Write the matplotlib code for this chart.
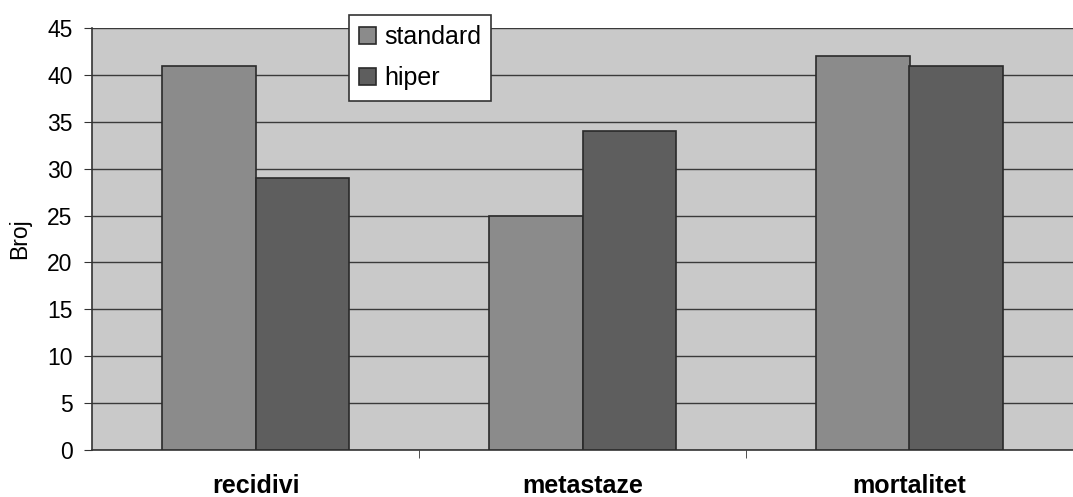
import numpy as np
import matplotlib.pyplot as plt

plt.rcParams['font.family'] = ['Liberation Sans', 'DejaVu Sans']

# Podaci
kategorije = ['recidivi', 'metastaze', 'mortalitet']
standard = [41, 25, 42]
hiper = [29, 34, 41]

x = np.arange(len(kategorije))
w = 0.286

fig = plt.figure(figsize=(10.73, 4.97), dpi=100)
ax = fig.add_axes([92 / 1073, 1 - 450 / 497, 981 / 1073, 422 / 497])
ax.set_facecolor('#c9c9c9')

ax.bar(x - w / 2, standard, w, color='#8b8b8b', edgecolor='#2a2a2a', linewidth=1.2,
       label='standard', zorder=3)
ax.bar(x + w / 2, hiper, w, color='#5e5e5e', edgecolor='#2a2a2a', linewidth=1.2,
       label='hiper', zorder=3)

ax.set_xlim(-0.5, 2.5)
ax.set_ylim(0, 45)
ax.set_yticks(np.arange(0, 46, 5))
ax.yaxis.grid(True, color='#3a3a3a', linewidth=1, zorder=1)
ax.tick_params(axis='y', labelsize=16.5, length=6, color='#333333', pad=8)

ax.set_xticks(x)
ax.set_xticklabels(kategorije, fontsize=18, fontweight='bold')
ax.tick_params(axis='x', which='major', length=0, pad=17)
ax.set_xticks([0.5, 1.5], minor=True)
ax.tick_params(axis='x', which='minor', length=6, color='#333333')

ax.set_ylabel('Broj', fontsize=16.5)
ax.yaxis.set_label_coords(-0.062, 0.5)

for s in ['top', 'right']:
    ax.spines[s].set_visible(False)
for s in ['left', 'bottom']:
    ax.spines[s].set_color('#333333')
    ax.spines[s].set_linewidth(1.2)

leg = ax.legend(loc='upper left', bbox_to_anchor=(349 / 1073, 1 - 15 / 497),
                bbox_transform=fig.transFigure, fontsize=18, frameon=True,
                fancybox=False, edgecolor='#333333', framealpha=1,
                handlelength=0.68, handleheight=0.68, handletextpad=0.32,
                borderpad=0.4, labelspacing=0.7, borderaxespad=0)
leg.get_frame().set_linewidth(1.2)

fig.savefig('out.png', dpi=100, facecolor='white')
